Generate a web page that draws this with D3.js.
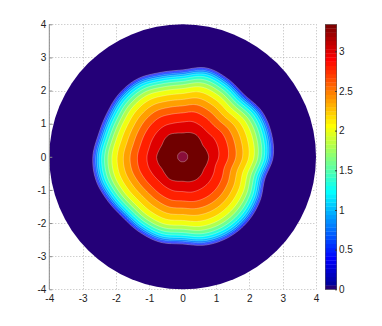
<!DOCTYPE html>
<html><head><meta charset="utf-8">
<script src="https://cdn.jsdelivr.net/npm/d3@7"></script>
<style>
html,body{margin:0;padding:0;background:#fff;}
svg{display:block;}
text{font-family:"Liberation Sans",Arial,Helvetica,sans-serif;font-size:10px;fill:#222;}
</style>
</head><body>
<svg id="chart" width="382" height="326"></svg>
<script>
// ---------- data ----------
const axisTicks = [-4,-3,-2,-1,0,1,2,3,4];
const colorbarTicks = [0,0.5,1,1.5,2,2.5,3];
const vMax = 3.34;
// angles (degrees, counter-clockwise from +x) at which contour radii were read
const angles = [0,15,30,45,60,75,90,105,120,135,150,165,180,195,210,225,240,255,270,285,300,315,330,345];
// radius of each contour level at those angles
const r000 = [2.72,2.76,2.75,2.64,2.72,2.78,2.63,2.64,2.72,2.70,2.63,2.62,2.70,2.70,2.62,2.57,2.62,2.67,2.64,2.76,2.80,2.77,2.68,2.56];
const r100 = [2.58,2.62,2.61,2.50,2.58,2.64,2.49,2.50,2.58,2.56,2.49,2.48,2.56,2.56,2.48,2.43,2.48,2.53,2.50,2.62,2.66,2.63,2.54,2.43];
const r200 = [2.14,2.17,2.16,2.07,2.14,2.18,2.06,2.07,2.14,2.12,2.06,2.06,2.12,2.12,2.06,2.02,2.06,2.10,2.07,2.17,2.20,2.17,2.10,2.01];
const r250 = [1.69,1.71,1.71,1.64,1.69,1.72,1.63,1.64,1.69,1.67,1.63,1.62,1.67,1.67,1.62,1.59,1.62,1.66,1.64,1.71,1.74,1.72,1.66,1.59];
const r300 = [1.08,1.10,1.09,1.05,1.08,1.10,1.05,1.05,1.08,1.07,1.05,1.04,1.07,1.07,1.04,1.02,1.04,1.06,1.05,1.10,1.11,1.10,1.06,1.02];
const r320 = [0.78,0.74,0.70,0.74,0.78,0.76,0.72,0.74,0.78,0.76,0.72,0.74,0.78,0.76,0.72,0.74,0.78,0.76,0.74,0.78,0.80,0.78,0.74,0.76];
const r330 = [0.15,0.15,0.15,0.15,0.15,0.15,0.15,0.15,0.15,0.15,0.15,0.15,0.15,0.15,0.15,0.15,0.15,0.15,0.15,0.15,0.15,0.15,0.15,0.15];
const knotLevels = [3.3, 3.2, 3.0, 2.5, 2.0, 1.0, 0];
const knotRadii  = [r330, r320, r300, r250, r200, r100, r000];
// filled-contour levels
const contourLevels = [0.2,0.4,0.6,0.8,1.0,1.2,1.4,1.6,1.8,2.0,2.2,2.4,2.6,2.8,3.0,3.2,3.3];

// ---------- styles ----------
const diskColor = "rgb(36,0,120)";
const topColors = {"3.2":"rgb(112,0,0)","3.3":"rgb(138,14,58)"};

function jet64(i){ // i = 1..64, MATLAB jet(64)
  const c = v => Math.max(0, Math.min(1, v));
  const r = c(Math.min((i-24)/16, (72-i)/16));
  const g = c(Math.min((i-8)/16, (56-i)/16));
  const b = c(Math.min((i+8)/16, (40-i)/16));
  return `rgb(${Math.round(r*255)},${Math.round(g*255)},${Math.round(b*255)})`;
}
function colorFor(v){
  const i = Math.min(64, Math.floor(v/vMax*64)+1);
  if (i === 1) return diskColor;
  return jet64(i);
}

const svg = d3.select("#chart");
const x = d3.scaleLinear([-4,4],[49.3,316]);
const y = d3.scaleLinear([-4,4],[289.3,24.3]);

// grid
const grid = svg.append("g").attr("stroke","#a8a8a8").attr("stroke-width",0.8).attr("stroke-dasharray","1,2");
axisTicks.forEach(t=>{
  grid.append("line").attr("x1",Math.round(x(t))+0.5).attr("x2",Math.round(x(t))+0.5).attr("y1",y(-4)).attr("y2",y(4));
  grid.append("line").attr("y1",Math.round(y(t))+0.5).attr("y2",Math.round(y(t))+0.5).attr("x1",x(-4)).attr("x2",x(4));
});

// disk
svg.append("ellipse").attr("cx",x(0)).attr("cy",y(0))
  .attr("rx",x(4)-x(0)).attr("ry",y(-4)-y(0)).attr("fill",diskColor);

// field
function periodic(arr, deg){
  const n = arr.length, p = deg/(360/n);
  const i1 = Math.floor(p), t = p - i1;
  const a = arr[(i1-1+n)%n], b = arr[i1%n], c = arr[(i1+1)%n], d = arr[(i1+2)%n];
  return 0.5*((2*b)+(-a+c)*t+(2*a-5*b+4*c-d)*t*t+(-a+3*b-3*c+d)*t*t*t);
}
const knotG = [0].concat(knotLevels.map(L=>1-(L/vMax)*(L/vMax)));
function field(px,py){
  const s = px*px+py*py;
  let th = Math.atan2(py,px)*180/Math.PI; if (th<0) th+=360;
  const ks = [0].concat(knotRadii.map(a=>{const r = periodic(a,th); return r*r;}));
  if (s >= ks[ks.length-1]) return 0;
  for (let k=0;k<ks.length-1;k++){
    if (s <= ks[k+1]){
      const g = knotG[k] + (s-ks[k])/(ks[k+1]-ks[k])*(knotG[k+1]-knotG[k]);
      return vMax*Math.sqrt(Math.max(0,1-g));
    }
  }
  return 0;
}
const step = 0.01, g0 = -2.95, N = 591;
const values = new Float64Array(N*N);
for (let j=0;j<N;j++) for (let i=0;i<N;i++) values[j*N+i] = field(g0+i*step, g0+j*step);

const proj = d3.geoTransform({point(px,py){ this.stream.point(x(g0+(px-0.5)*step), y(g0+(py-0.5)*step)); }});
const path = d3.geoPath(proj);
const contours = d3.contours().size([N,N]).thresholds(contourLevels)(values);

svg.append("g").selectAll("path").data(contours).join("path")
  .attr("d",path)
  .attr("fill",d=> topColors[String(d.value)] || colorFor(d.value))
  .attr("stroke","rgba(255,255,255,0.4)").attr("stroke-width",0.8);

// left axis
svg.append("line").attr("x1",x(-4)).attr("x2",x(-4)).attr("y1",y(4)).attr("y2",y(-4))
  .attr("stroke","#8a8a8a").attr("stroke-width",1);
const yAx = svg.append("g").attr("transform",`translate(${x(-4)},0)`)
  .call(d3.axisLeft(y).tickValues(axisTicks).tickFormat(d=>String(d)).tickSize(-3).tickPadding(3));
yAx.select(".domain").remove();
yAx.selectAll("line").attr("stroke","#8a8a8a");
yAx.selectAll("text").attr("fill","#222").style("font-size","10px").style("font-family","'Liberation Sans',Arial,sans-serif");

const xAx = svg.append("g").attr("transform",`translate(0,${y(-4)})`)
  .call(d3.axisBottom(x).tickValues(axisTicks).tickFormat(d=>String(d)).tickSize(0).tickPadding(6));
xAx.select(".domain").remove();
xAx.selectAll("text").attr("fill","#222").style("font-size","10px").style("font-family","'Liberation Sans',Arial,sans-serif");

// colorbar
const cb = d3.scaleLinear([0,vMax],[289.3,24.3]);
const cbX = 325, cbW = 12;
const cbBands = d3.range(64);
svg.append("g").selectAll("rect").data(cbBands).join("rect")
  .attr("x",cbX).attr("width",cbW)
  .attr("y",i=>cb((i+1)*vMax/64)).attr("height",i=>cb(i*vMax/64)-cb((i+1)*vMax/64)+0.3)
  .attr("fill",i=> i===0 ? diskColor : jet64(i+1));
svg.append("rect").attr("x",cbX+0.5).attr("y",cb(vMax)).attr("width",cbW-1).attr("height",cb(0)-cb(vMax))
  .attr("fill","none").attr("stroke","#555").attr("stroke-width",0.6);
const cbAx = svg.append("g").attr("transform",`translate(${cbX+cbW},0)`)
  .call(d3.axisRight(cb).tickValues(colorbarTicks).tickFormat(d=>String(d)).tickSize(-2).tickPadding(2));
cbAx.select(".domain").remove();
cbAx.selectAll("line").attr("stroke","#333");
cbAx.selectAll("text").attr("fill","#222").style("font-size","10px").style("font-family","'Liberation Sans',Arial,sans-serif");
</script>
</body></html>
